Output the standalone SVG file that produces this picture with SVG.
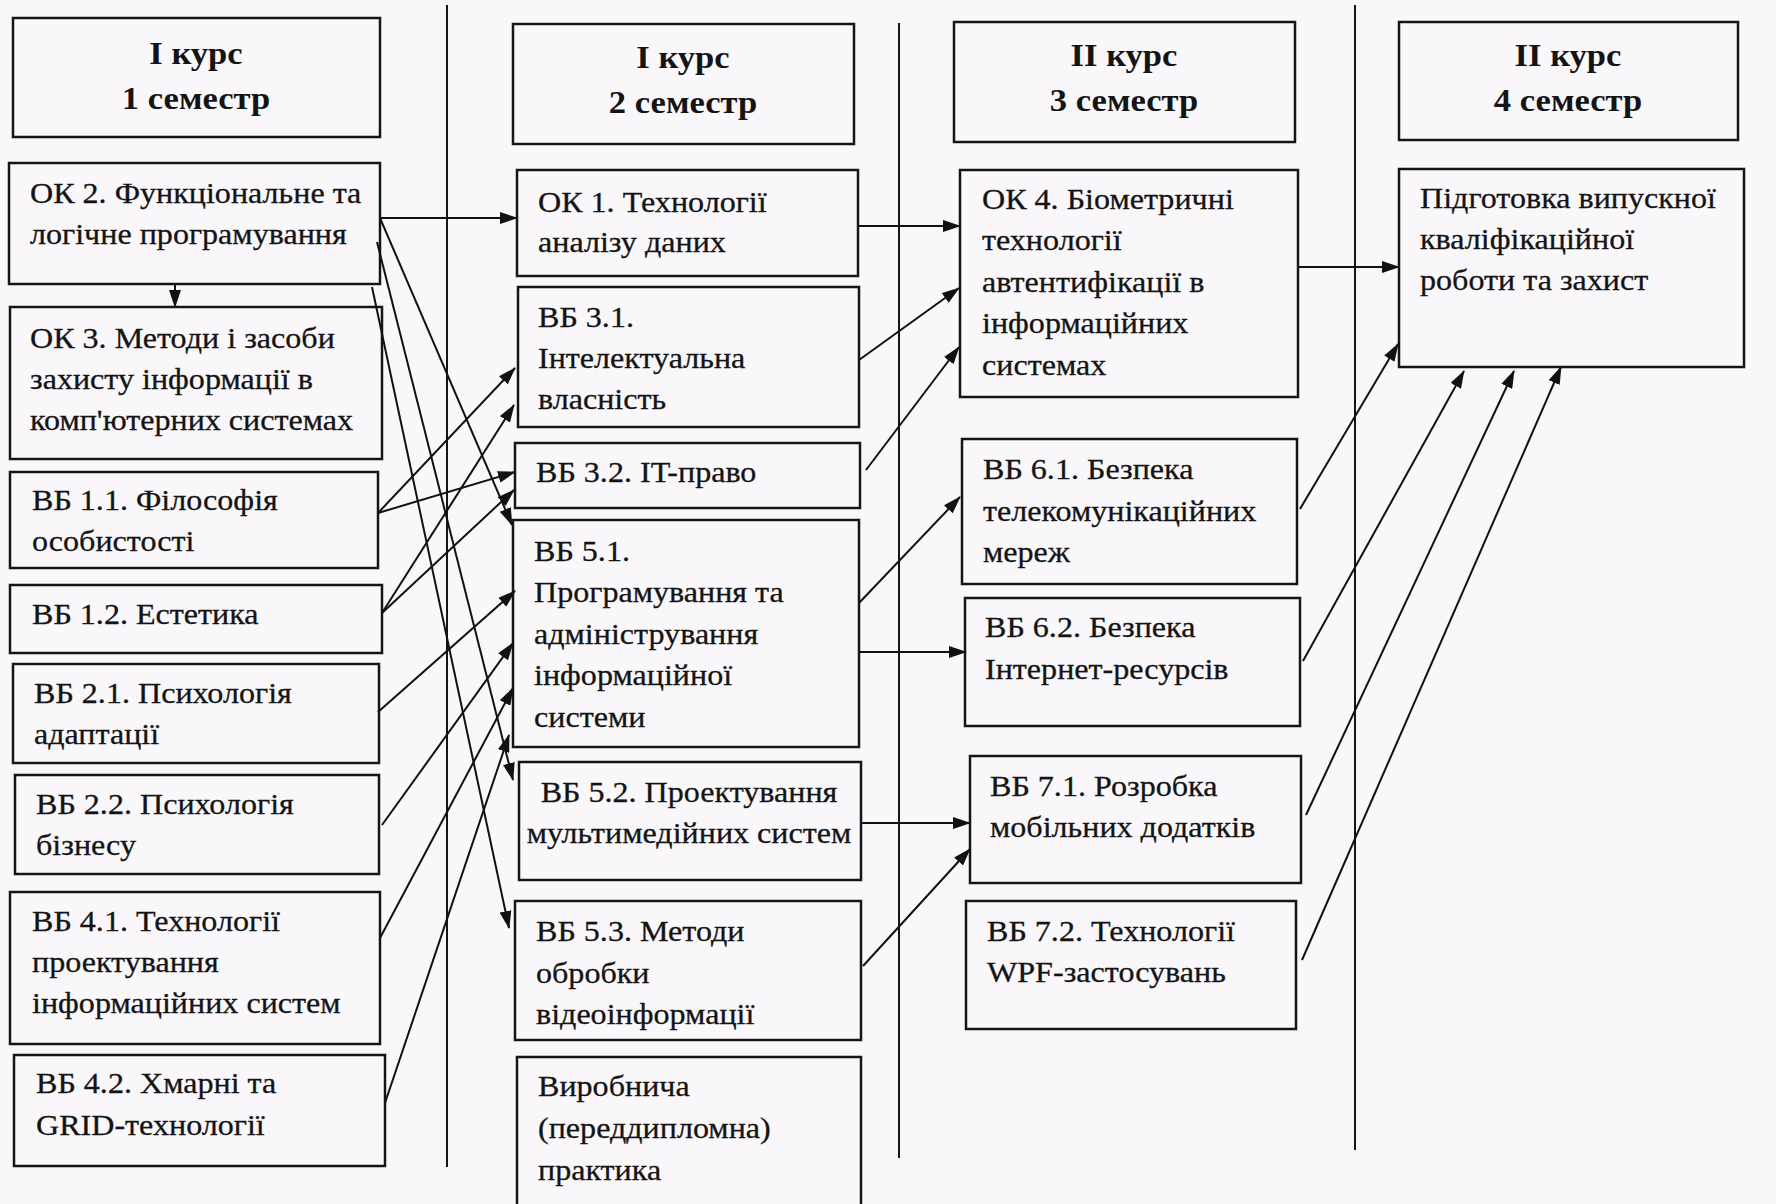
<svg xmlns="http://www.w3.org/2000/svg" width="1776" height="1204" viewBox="0 0 1776 1204">
<style>
.bg{fill:#faf7fa}
.box{fill:none;stroke:#151515;stroke-width:2.5}
.t{font-family:"Liberation Serif","Times New Roman",serif;font-size:30px;fill:#141414;stroke:#141414;stroke-width:0.3}
.h{font-family:"Liberation Serif","Times New Roman",serif;font-size:32px;font-weight:bold;fill:#141414;text-anchor:middle}
.c{text-anchor:middle}
.sep{stroke:#151515;stroke-width:2;fill:none}
.ln{stroke:#111;stroke-width:2;fill:none;marker-end:url(#ah)}
</style>
<defs>
<marker id="ah" markerUnits="userSpaceOnUse" markerWidth="18" markerHeight="12" refX="17" refY="6" orient="auto">
<path d="M0,0 L18,6 L0,12 z" fill="#111"/>
</marker>
</defs>
<rect class="bg" x="0" y="0" width="1776" height="1204"/>
<g id="separators">
<line class="sep" x1="447" y1="5" x2="447" y2="1167"/>
<line class="sep" x1="899" y1="23" x2="899" y2="1158"/>
<line class="sep" x1="1355" y1="5" x2="1355" y2="1150"/>
</g>
<g id="h1"><rect class="box" x="13" y="18" width="367" height="119"/>
<text class="h" transform="translate(196,64) scale(1.08,1)"><tspan x="0">І курс</tspan><tspan x="0" dy="45">1 семестр</tspan></text></g>
<g id="ok2"><rect class="box" x="9" y="163" width="371" height="121"/>
<text class="t" transform="translate(30,203) scale(1.07,1)"><tspan x="0">ОК 2. Функціональне та</tspan><tspan x="0" dy="41">логічне програмування</tspan></text></g>
<g id="ok3"><rect class="box" x="10" y="307" width="372" height="152"/>
<text class="t" transform="translate(30,348) scale(1.07,1)"><tspan x="0">ОК 3. Методи і засоби</tspan><tspan x="0" dy="41">захисту інформації в</tspan><tspan x="0" dy="41">комп'ютерних системах</tspan></text></g>
<g id="vb11"><rect class="box" x="10" y="472" width="368" height="96"/>
<text class="t" transform="translate(32,510) scale(1.07,1)"><tspan x="0">ВБ 1.1. Філософія</tspan><tspan x="0" dy="41">особистості</tspan></text></g>
<g id="vb12"><rect class="box" x="10" y="585" width="372" height="68"/>
<text class="t" transform="translate(32,624) scale(1.07,1)">ВБ 1.2. Естетика</text></g>
<g id="vb21"><rect class="box" x="13" y="664" width="366" height="99"/>
<text class="t" transform="translate(34,703) scale(1.07,1)"><tspan x="0">ВБ 2.1. Психологія</tspan><tspan x="0" dy="41">адаптації</tspan></text></g>
<g id="vb22"><rect class="box" x="15" y="775" width="364" height="99"/>
<text class="t" transform="translate(36,814) scale(1.07,1)"><tspan x="0">ВБ 2.2. Психологія</tspan><tspan x="0" dy="41">бізнесу</tspan></text></g>
<g id="vb41"><rect class="box" x="10" y="892" width="370" height="152"/>
<text class="t" transform="translate(32,931) scale(1.07,1)"><tspan x="0">ВБ 4.1. Технології</tspan><tspan x="0" dy="41">проектування</tspan><tspan x="0" dy="41">інформаційних систем</tspan></text></g>
<g id="vb42"><rect class="box" x="14" y="1055" width="371" height="111"/>
<text class="t" transform="translate(36,1093) scale(1.07,1)"><tspan x="0">ВБ 4.2. Хмарні та</tspan><tspan x="0" dy="42">GRID-технології</tspan></text></g>
<g id="h2"><rect class="box" x="513" y="24" width="341" height="120"/>
<text class="h" transform="translate(683,68) scale(1.08,1)"><tspan x="0">І курс</tspan><tspan x="0" dy="45">2 семестр</tspan></text></g>
<g id="ok1"><rect class="box" x="517" y="170" width="341" height="106"/>
<text class="t" transform="translate(538,212) scale(1.07,1)"><tspan x="0">ОК 1. Технології</tspan><tspan x="0" dy="40">аналізу даних</tspan></text></g>
<g id="vb31"><rect class="box" x="518" y="287" width="341" height="140"/>
<text class="t" transform="translate(538,327) scale(1.07,1)"><tspan x="0">ВБ 3.1.</tspan><tspan x="0" dy="41">Інтелектуальна</tspan><tspan x="0" dy="41">власність</tspan></text></g>
<g id="vb32"><rect class="box" x="515" y="443" width="345" height="65"/>
<text class="t" transform="translate(536,482) scale(1.07,1)">ВБ 3.2. IT-право</text></g>
<g id="vb51"><rect class="box" x="513" y="520" width="346" height="227"/>
<text class="t" transform="translate(534,561) scale(1.07,1)"><tspan x="0">ВБ 5.1.</tspan><tspan x="0" dy="41.5">Програмування та</tspan><tspan x="0" dy="41.5">адміністрування</tspan><tspan x="0" dy="41.5">інформаційної</tspan><tspan x="0" dy="41.5">системи</tspan></text></g>
<g id="vb52"><rect class="box" x="519" y="762" width="342" height="118"/>
<text class="t c" transform="translate(689,802) scale(1.07,1)"><tspan x="0">ВБ 5.2. Проектування</tspan><tspan x="0" dy="41">мультимедійних систем</tspan></text></g>
<g id="vb53"><rect class="box" x="515" y="901" width="346" height="139"/>
<text class="t" transform="translate(536,941) scale(1.07,1)"><tspan x="0">ВБ 5.3. Методи</tspan><tspan x="0" dy="42">обробки</tspan><tspan x="0" dy="41">відеоінформації</tspan></text></g>
<g id="practice"><rect class="box" x="517" y="1057" width="344" height="160"/>
<text class="t" transform="translate(538,1096) scale(1.07,1)"><tspan x="0">Виробнича</tspan><tspan x="0" dy="42">(переддипломна)</tspan><tspan x="0" dy="42">практика</tspan></text></g>
<g id="h3"><rect class="box" x="954" y="22" width="341" height="120"/>
<text class="h" transform="translate(1124,66) scale(1.08,1)"><tspan x="0">ІІ курс</tspan><tspan x="0" dy="45">3 семестр</tspan></text></g>
<g id="ok4"><rect class="box" x="960" y="170" width="338" height="227"/>
<text class="t" transform="translate(982,209) scale(1.07,1)"><tspan x="0">ОК 4. Біометричні</tspan><tspan x="0" dy="41.5">технології</tspan><tspan x="0" dy="41.5">автентифікації в</tspan><tspan x="0" dy="41.5">інформаційних</tspan><tspan x="0" dy="41.5">системах</tspan></text></g>
<g id="vb61"><rect class="box" x="962" y="439" width="335" height="145"/>
<text class="t" transform="translate(983,479) scale(1.07,1)"><tspan x="0">ВБ 6.1. Безпека</tspan><tspan x="0" dy="42">телекомунікаційних</tspan><tspan x="0" dy="41">мереж</tspan></text></g>
<g id="vb62"><rect class="box" x="965" y="598" width="335" height="128"/>
<text class="t" transform="translate(985,637) scale(1.07,1)"><tspan x="0">ВБ 6.2. Безпека</tspan><tspan x="0" dy="42">Інтернет-ресурсів</tspan></text></g>
<g id="vb71"><rect class="box" x="970" y="756" width="331" height="127"/>
<text class="t" transform="translate(990,796) scale(1.07,1)"><tspan x="0">ВБ 7.1. Розробка</tspan><tspan x="0" dy="41">мобільних додатків</tspan></text></g>
<g id="vb72"><rect class="box" x="966" y="901" width="330" height="128"/>
<text class="t" transform="translate(987,941) scale(1.07,1)"><tspan x="0">ВБ 7.2. Технології</tspan><tspan x="0" dy="41">WPF-застосувань</tspan></text></g>
<g id="h4"><rect class="box" x="1399" y="22" width="339" height="118"/>
<text class="h" transform="translate(1568,66) scale(1.08,1)"><tspan x="0">ІІ курс</tspan><tspan x="0" dy="45">4 семестр</tspan></text></g>
<g id="thesis"><rect class="box" x="1399" y="169" width="345" height="198"/>
<text class="t" transform="translate(1420,208) scale(1.07,1)"><tspan x="0">Підготовка випускної</tspan><tspan x="0" dy="41">кваліфікаційної</tspan><tspan x="0" dy="41">роботи та захист</tspan></text></g>
<g id="connectors">
<line class="ln" x1="380" y1="218" x2="517" y2="218"/>
<line class="ln" x1="175" y1="284" x2="175" y2="307"/>
<line class="ln" x1="380" y1="218" x2="512" y2="525"/>
<line class="ln" x1="377" y1="242" x2="513" y2="780"/>
<line class="ln" x1="372" y1="287" x2="509" y2="928"/>
<line class="ln" x1="378" y1="513" x2="515" y2="368"/>
<line class="ln" x1="378" y1="513" x2="515" y2="472"/>
<line class="ln" x1="382" y1="613" x2="514" y2="405"/>
<line class="ln" x1="382" y1="613" x2="514" y2="490"/>
<line class="ln" x1="378" y1="712" x2="515" y2="591"/>
<line class="ln" x1="382" y1="825" x2="513" y2="643"/>
<line class="ln" x1="380" y1="938" x2="513" y2="688"/>
<line class="ln" x1="385" y1="1103" x2="509" y2="735"/>
<line class="ln" x1="858" y1="226" x2="960" y2="226"/>
<line class="ln" x1="859" y1="360" x2="959" y2="288"/>
<line class="ln" x1="866" y1="470" x2="959" y2="347"/>
<line class="ln" x1="859" y1="603" x2="960" y2="497"/>
<line class="ln" x1="859" y1="652" x2="966" y2="652"/>
<line class="ln" x1="861" y1="823" x2="970" y2="823"/>
<line class="ln" x1="863" y1="966" x2="970" y2="849"/>
<line class="ln" x1="1298" y1="267" x2="1399" y2="267"/>
<line class="ln" x1="1300" y1="509" x2="1398" y2="344"/>
<line class="ln" x1="1303" y1="661" x2="1464" y2="371"/>
<line class="ln" x1="1306" y1="815" x2="1514" y2="371"/>
<line class="ln" x1="1302" y1="960" x2="1561" y2="367"/>
</g>
</svg>
